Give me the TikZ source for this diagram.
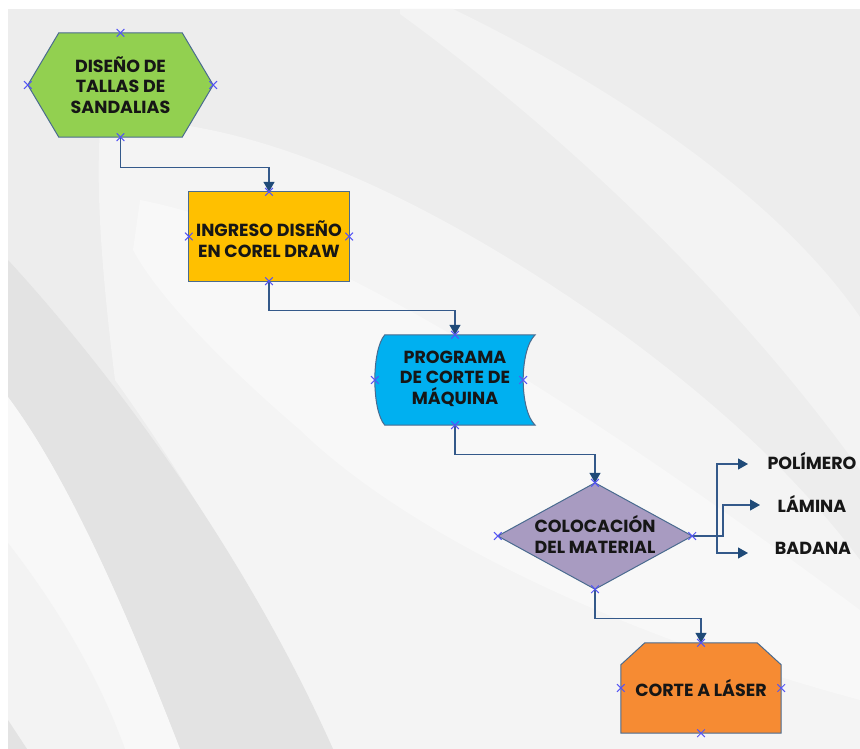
\documentclass[tikz,border=0pt]{standalone}
\usepackage{fontspec}
\setmainfont{Poppins}
\usetikzlibrary{arrows.meta,calc}
\definecolor{bgbase}{HTML}{EDEDED}
\definecolor{bgband}{HTML}{F3F3F3}
\definecolor{bgmid}{HTML}{F4F4F4}
\definecolor{bglight}{HTML}{F8F8F8}
\definecolor{bgdark}{HTML}{E3E3E3}
\definecolor{cgreen}{HTML}{92D050}
\definecolor{cyellow}{HTML}{FFC000}
\definecolor{cblue}{HTML}{00B0F0}
\definecolor{cpurple}{HTML}{A89BC1}
\definecolor{corange}{HTML}{F68B33}
\definecolor{edge}{HTML}{4A6B8F}
\definecolor{lnk}{HTML}{34598A}
\definecolor{tipc}{HTML}{1F4A78}
\definecolor{mk}{HTML}{5555F5}
\definecolor{txt}{HTML}{161616}
\pgfdeclarelayer{bgl}
\pgfdeclarelayer{shp}
\pgfsetlayers{bgl,shp,main}
\begin{document}
\begin{tikzpicture}[x=1pt,y=-1pt,
  lbl/.style={inner sep=0pt, align=center, font=\fontsize{17.5}{20.5}\selectfont\bfseries, text=txt},
  frame/.style={draw=none, inner sep=0pt},
  shapeline/.style={draw=edge, line width=1pt},
  conn/.style={draw=lnk, line width=1.2pt, -{Triangle[width=11pt,length=10pt,color=tipc]}},
  xmark/.style={draw=mk, line width=1pt}
]
\useasboundingbox (0,0) rectangle (860,749);

% ---------- background ----------
\begin{pgfonlayer}{bgl}
\fill[white] (0,0) rectangle (860,749);
\fill[bgbase] (8,9) rectangle (860,749);
\fill[bgband] (400,9) -- (453,9) .. controls (620,90) and (780,200) .. (860,317)
   -- (860,470) .. controls (760,330) and (600,160) .. (400,14) -- cycle;
\fill[bgmid] (120,120) .. controls (250,120) and (420,190) .. (617,330)
   .. controls (720,405) and (800,480) .. (860,560) -- (860,749) -- (333,749)
   .. controls (260,600) and (180,470) .. (115,380)
   .. controls (105,300) and (95,200) .. (100,130) -- cycle;
\fill[bglight] (140,200) .. controls (300,230) and (550,380) .. (860,610)
   -- (860,700) .. controls (600,630) and (400,527) .. (300,430)
   .. controls (230,370) and (160,300) .. (133,250) -- cycle;
\fill[bgdark] (8,260) .. controls (100,360) and (240,540) .. (333,749)
   -- (180,749) .. controls (130,620) and (70,480) .. (8,397) -- cycle;
\fill[bglight] (8,397) .. controls (70,480) and (130,620) .. (180,749) -- (8,749) -- cycle;
\fill[bgband] (8,543) .. controls (60,610) and (100,680) .. (125,749) -- (8,749) -- cycle;
\fill[bgdark] (8,720) -- (27,749) -- (8,749) -- cycle;
\end{pgfonlayer}

% ---------- frames (named nodes) ----------
\node[frame, minimum width=185pt, minimum height=104pt] (hex) at (120.5,85) {};
\node[frame, minimum width=160pt, minimum height=89pt] (rect) at (269,236.5) {};
\node[frame, minimum width=160pt, minimum height=90pt] (blue) at (455,380) {};
\node[frame, minimum width=194pt, minimum height=106pt] (dia) at (595,536) {};
\node[frame, minimum width=160pt, minimum height=90pt] (las) at (701,688) {};
\coordinate (blueR) at ($(blue.east)+(-12,0)$);

% ---------- shapes ----------
\begin{pgfonlayer}{shp}
\draw[shapeline, fill=cgreen] (hex.west) -- ($(hex.north west)+(31,0)$) -- ($(hex.north east)+(-31,0)$)
   -- (hex.east) -- ($(hex.south east)+(-31,0)$) -- ($(hex.south west)+(31,0)$) -- cycle;
\draw[shapeline, fill=cyellow] (rect.north west) rectangle (rect.south east);
\draw[shapeline, fill=cblue] ($(blue.north west)+(10,0)$) -- (blue.north east)
   .. controls ($(blue.north east)+(-16,15)$) and ($(blue.south east)+(-16,-15)$) .. (blue.south east)
   -- ($(blue.south west)+(10,0)$)
   .. controls ($(blue.south west)+(-3.3,-15)$) and ($(blue.north west)+(-3.3,15)$) .. ($(blue.north west)+(10,0)$) -- cycle;
\draw[shapeline, fill=cpurple] (dia.north) -- (dia.east) -- (dia.south) -- (dia.west) -- cycle;
\draw[shapeline, fill=corange] ($(las.north west)+(24,0)$) -- ($(las.north east)+(-24,0)$)
   -- ($(las.north east)+(0,22)$) -- (las.south east) -- (las.south west)
   -- ($(las.north west)+(0,22)$) -- cycle;
\end{pgfonlayer}

% ---------- texts ----------
\node[lbl] (thex) at (hex) {DISEÑO DE\\TALLAS DE\\SANDALIAS};
\node[lbl] (trect) at ($(rect)+(0,2.5)$) {INGRESO DISEÑO\\EN COREL DRAW};
\node[lbl] (tblue) at ($(blue)+(0,-1.5)$) {PROGRAMA\\DE CORTE DE\\MÁQUINA};
\node[lbl] (tdia) at ($(dia)+(0,-1.5)$) {COLOCACIÓN\\DEL MATERIAL};
\node[lbl] (tlas) at (las) {CORTE A LÁSER};
\node[lbl] (pol) at (812,461) {POLÍMERO};
\node[lbl] (lam) at (812,504) {LÁMINA};
\node[lbl] (bad) at (813,548) {BADANA};

% ---------- connectors ----------
\coordinate (tp) at (748,464);
\coordinate (tm) at (760,505);
\coordinate (tb) at (748,553);
\draw[conn] (hex.south) -- ++(0,30) -| (rect.north);
\draw[conn] (rect.south) -- ++(0,29) -| (blue.north);
\draw[conn] (blue.south) -- ++(0,29) -| (dia.north);
\draw[conn] (dia.south) -- ++(0,29) -| (las.north);
\draw[conn] (dia.east) -| ($(tp)+(-31,0)$) -- (tp);
\draw[conn] (dia.east) -| ($(tm)+(-37,0)$) -- (tm);
\draw[conn] (dia.east) -| ($(tb)+(-31,0)$) -- (tb);

% ---------- connection markers ----------
\foreach \p in {hex.north,hex.south,hex.west,hex.east,
                rect.north,rect.south,rect.west,rect.east,
                blue.north,blue.south,blue.west,blueR,
                dia.north,dia.south,dia.west,dia.east,
                las.north,las.south,las.west,las.east}
  \draw[xmark] ($(\p)+(-3.8,-3.8)$) -- ($(\p)+(3.8,3.8)$)
               ($(\p)+(-3.8,3.8)$) -- ($(\p)+(3.8,-3.8)$);
\end{tikzpicture}
\end{document}
